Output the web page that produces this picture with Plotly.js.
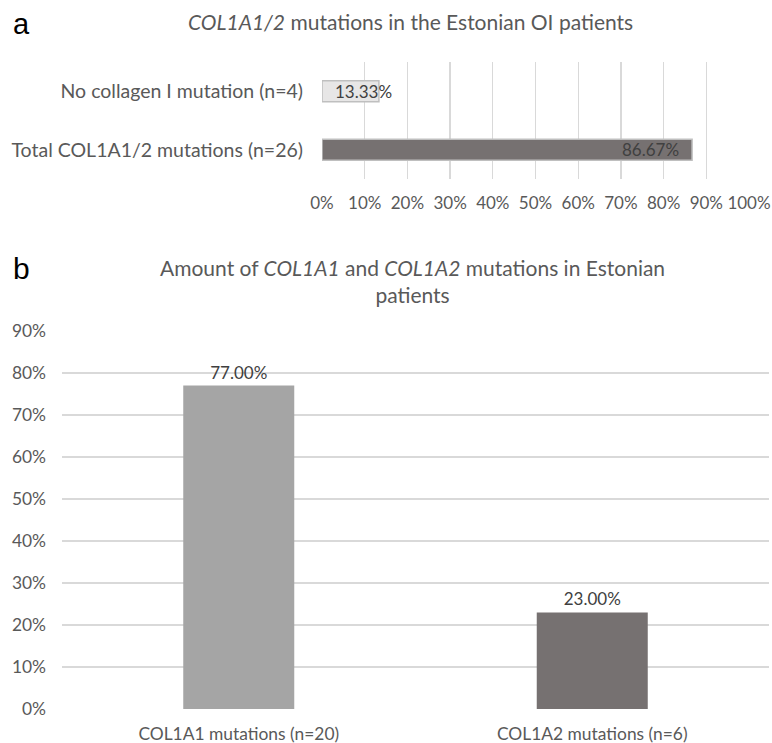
<!DOCTYPE html>
<html>
<head>
<meta charset="utf-8">
<script src="https://cdn.plot.ly/plotly-3.0.1.min.js"></script>
<style>html,body{margin:0;padding:0;background:#fff;}#chart{width:772px;height:743px;}</style>
</head>
<body>
<div id="chart"></div>
<script>
// Panel a data
var catsA = ["No collagen I mutation (n=4)", "Total COL1A1/2 mutations (n=26)"];
var valsA = [13.33, 86.67];
var colorsA = ["#e7e6e6", "#767171"];
var ticksA = [0, 10, 20, 30, 40, 50, 60, 70, 80, 90, 100];

// Panel b data
var catsB = ["COL1A1 mutations (n=20)", "COL1A2 mutations (n=6)"];
var valsB = [77.00, 23.00];
var colorsB = ["#a5a5a5", "#767171"];
var ticksB = [0, 10, 20, 30, 40, 50, 60, 70, 80, 90];

var FONT = "Lato, 'Open Sans', sans-serif";
var GRAY = "#595959";
var W = 772, H = 743;
function px(x) { return x / W; }
function py(y) { return 1 - y / H; }

var traceA = {
  type: "bar", orientation: "h",
  x: valsA, y: catsA,
  width: 0.36,
  marker: { color: colorsA, line: { color: "#bfbfbf", width: 1.5 } },
  xaxis: "x", yaxis: "y",
  hoverinfo: "none"
};
var traceB = {
  type: "bar",
  x: catsB, y: valsB,
  width: 0.314,
  marker: { color: colorsB },
  text: valsB.map(function (v) { return v.toFixed(2) + "%"; }),
  textposition: "outside",
  textfont: { family: FONT, size: 17, color: "#404040" },
  cliponaxis: false,
  xaxis: "x2", yaxis: "y2",
  hoverinfo: "none"
};

var annotations = [];
valsA.forEach(function (v, i) {
  var small = v < 20;
  annotations.push({
    xref: "x", yref: "y",
    x: small ? 0 : v, y: catsA[i],
    text: v.toFixed(2) + "%",
    showarrow: false,
    xanchor: small ? "left" : "right",
    xshift: small ? 11 : -11,
    font: { family: FONT, size: 17, color: "#404040" }
  });
});
annotations.push({
  xref: "paper", yref: "paper", x: px(410), y: py(21), xanchor: "center", yanchor: "middle",
  text: "<i>COL1A1/2</i> mutations in the Estonian OI patients", showarrow: false,
  font: { family: FONT, size: 21, color: GRAY }
});
annotations.push({
  xref: "paper", yref: "paper", x: px(412), y: py(281), xanchor: "center", yanchor: "middle",
  text: "Amount of <i>COL1A1</i> and <i>COL1A2</i> mutations in Estonian<br>patients", showarrow: false,
  font: { family: FONT, size: 21, color: GRAY }
});
annotations.push({
  xref: "paper", yref: "paper", x: px(11), y: py(24), xanchor: "left", yanchor: "middle",
  text: "a", showarrow: false, font: { family: "'Liberation Sans', Arial, sans-serif", size: 29, color: "#000" }
});
annotations.push({
  xref: "paper", yref: "paper", x: px(11), y: py(268), xanchor: "left", yanchor: "middle",
  text: "b", showarrow: false, font: { family: "'Liberation Sans', Arial, sans-serif", size: 30, color: "#000" }
});

var layout = {
  width: W, height: H,
  margin: { l: 0, r: 0, t: 0, b: 0 },
  paper_bgcolor: "#fff", plot_bgcolor: "#fff",
  showlegend: false,
  font: { family: FONT, color: GRAY, size: 17 },
  xaxis: {
    domain: [px(322), px(749)], anchor: "y",
    range: [0, 100], tickvals: ticksA, ticktext: ticksA.map(function (t) { return t + "%"; }),
    showgrid: true, gridcolor: "#d9d9d9", gridwidth: 1.3, zeroline: false,
    showline: false, ticks: "", ticklabelstandoff: 12,
    tickfont: { family: FONT, size: 17, color: GRAY }, fixedrange: true
  },
  yaxis: {
    domain: [py(179), py(62)], anchor: "x",
    type: "category", categoryarray: catsA, autorange: "reversed",
    showgrid: false, zeroline: false, showline: false, ticks: "", ticklabelstandoff: 18,
    tickfont: { family: FONT, size: 19.5, color: GRAY }, fixedrange: true
  },
  xaxis2: {
    domain: [px(62), px(769)], anchor: "y2",
    type: "category", showgrid: false, zeroline: false, showline: false, ticks: "",
    ticklabelstandoff: 13,
    tickfont: { family: FONT, size: 17.4, color: GRAY }, fixedrange: true
  },
  yaxis2: {
    domain: [py(709), py(331)], anchor: "x2",
    range: [0, 90], tickvals: ticksB, ticktext: ticksB.map(function (t) { return t + "%"; }),
    showgrid: true, gridcolor: "#d9d9d9", gridwidth: 1.3, zeroline: false, showline: false,
    ticks: "", ticklabelstandoff: 15,
    tickfont: { family: FONT, size: 17.4, color: GRAY }, fixedrange: true
  },
  annotations: annotations
};

Plotly.newPlot("chart", [traceA, traceB], layout, { displayModeBar: false, staticPlot: true });
</script>
</body>
</html>
